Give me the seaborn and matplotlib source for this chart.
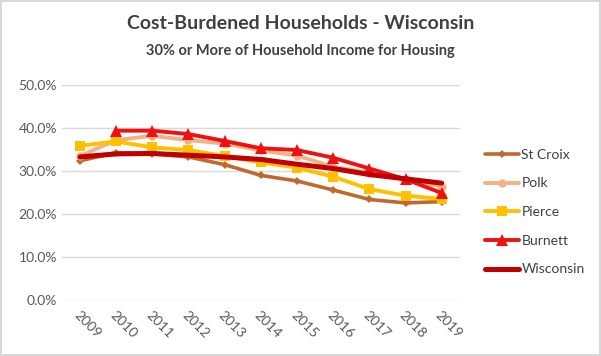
import matplotlib
matplotlib.use("Agg")
import matplotlib.pyplot as plt
import seaborn as sns
import numpy as np
import pandas as pd

years = [2009, 2010, 2011, 2012, 2013, 2014, 2015, 2016, 2017, 2018, 2019]
st_croix = [32.4, 34.3, 34.0, 33.3, 31.5, 29.0, 27.7, 25.6, 23.4, 22.6, 22.9]
polk = [33.5, 37.2, 38.2, 37.2, 36.4, 34.8, 33.6, 31.0, 29.6, 28.1, 26.4]
pierce = [35.9, 36.9, 35.5, 34.9, 33.5, 32.0, 30.8, 28.7, 25.8, 24.3, 23.5]
burnett = [np.nan, 39.4, 39.4, 38.6, 37.0, 35.3, 34.9, 33.1, 30.6, 28.1, 24.9]
wisconsin = [33.3, 34.0, 34.1, 33.7, 33.3, 32.7, 31.6, 30.6, 29.2, 28.2, 27.2]

series = ["St Croix", "Polk", "Pierce", "Burnett", "Wisconsin"]
colors = {"St Croix": "#C0692C", "Polk": "#F4B183", "Pierce": "#FFC000",
          "Burnett": "#EE1111", "Wisconsin": "#C00000"}
markers = {"St Croix": "D", "Polk": "o", "Pierce": "s", "Burnett": "^", "Wisconsin": None}
msizes = {"St Croix": 4, "Polk": 6, "Pierce": 7, "Burnett": 8, "Wisconsin": 0}
widths = {"St Croix": 2.6, "Polk": 2.8, "Pierce": 2.8, "Burnett": 2.8, "Wisconsin": 3.6}

df = pd.DataFrame({"year": years, "St Croix": st_croix, "Polk": polk,
                   "Pierce": pierce, "Burnett": burnett, "Wisconsin": wisconsin})

sns.set_style("white")
plt.rcParams["font.family"] = ["Lato", "DejaVu Sans"]

fig = plt.figure(figsize=(6.01, 3.56), dpi=100, linewidth=1.5, edgecolor="#d9d9d9")
ax = fig.add_axes([0.103, 0.157, 0.662, 0.604])

for name in series:
    sub = df[["year", name]].dropna()
    sns.lineplot(data=sub, x="year", y=name, ax=ax, color=colors[name],
                 linewidth=widths[name], marker=markers[name],
                 markersize=msizes[name], markeredgewidth=0,
                 label=name, zorder=3 if name != "Wisconsin" else 4)

ax.set_ylim(0, 50)
ax.set_xlim(2008.5, 2019.5)
ax.set_yticks([0, 10, 20, 30, 40, 50])
ax.set_yticklabels([f"{v:.1f}%" for v in [0, 10, 20, 30, 40, 50]])
ax.set_xticks(years)
ax.set_xticklabels([str(y) for y in years], rotation=-45, ha="left", rotation_mode="anchor")
ax.tick_params(axis="both", colors="#595959", labelsize=10, length=0)
ax.tick_params(axis="x", pad=6)
ax.yaxis.grid(True, color="#d9d9d9", linewidth=1)
ax.set_xlabel("")
ax.set_ylabel("")
for s in ax.spines.values():
    s.set_visible(False)

leg = ax.legend(loc="upper left", bbox_to_anchor=(1.05, 0.73), frameon=False,
                fontsize=10, handlelength=2.4, labelspacing=1.2, handletextpad=0.2,
                borderaxespad=0)
for t in leg.get_texts():
    t.set_color("#404040")

fig.text(0.5, 0.935, "Cost-Burdened Households - Wisconsin", ha="center", va="center",
         fontsize=14, fontweight="bold", color="#404040")
fig.text(0.5, 0.858, "30% or More of Household Income for Housing", ha="center", va="center",
         fontsize=10.5, fontweight="bold", color="#404040")

fig.savefig("out.png", dpi=100, edgecolor=fig.get_edgecolor())
